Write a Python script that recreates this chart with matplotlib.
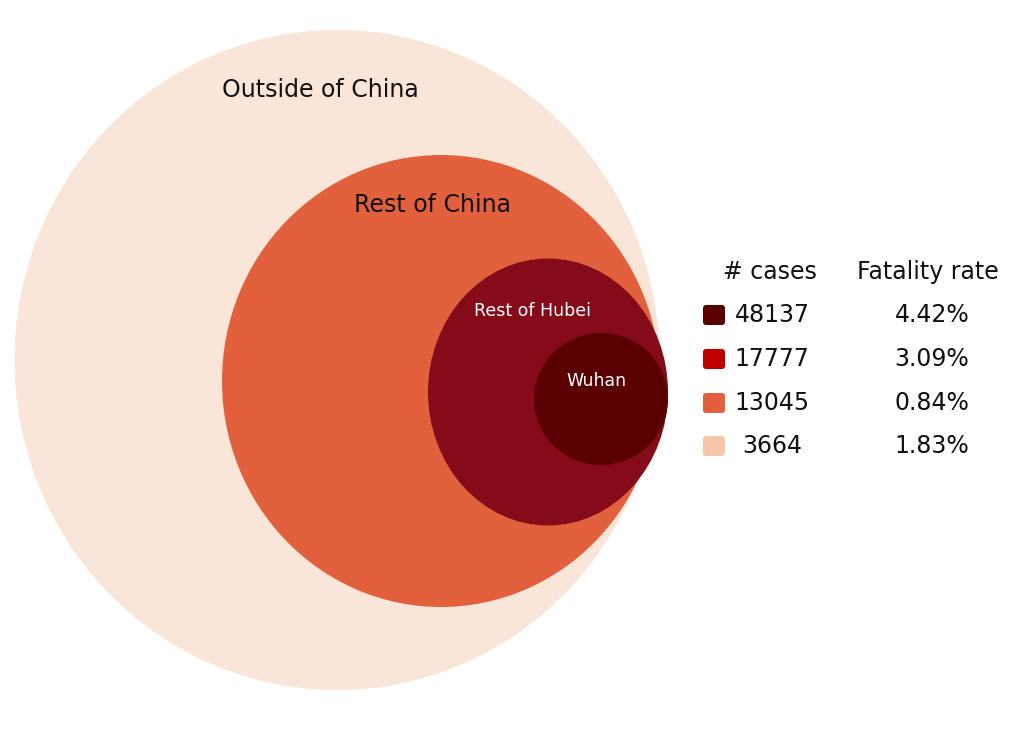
import matplotlib.pyplot as plt
from matplotlib.patches import Ellipse, FancyBboxPatch

# nested regions, drawn in pixel space of the reference
regions = ["Outside of China", "Rest of China", "Rest of Hubei", "Wuhan"]
centers = [(337, 360), (441, 381), (548, 392), (601, 399)]
widths = [645, 438, 240, 134]
heights = [660, 452, 267, 132]
fills = ["#fae5d9", "#e2603b", "#850b1a", "#5a0000"]
label_pos = [(320, 90), (432, 205), (533, 311), (596, 381)]
label_col = ["#111111", "#111111", "white", "white"]
label_size = [17, 17, 12.5, 12.5]

cases = ["48137", "17777", "13045", "3664"]
rates = ["4.42%", "3.09%", "0.84%", "1.83%"]
legend_cols = ["#5a0000", "#c00000", "#e2603b", "#f7c6a8"]
row_y = [315, 359, 403, 446]

fig = plt.figure(figsize=(10.31, 7.37), dpi=100)
ax = fig.add_axes([0, 0, 1, 1])
ax.set_xlim(0, 1031)
ax.set_ylim(737, 0)
ax.axis("off")

for c, w, h, f in zip(centers, widths, heights, fills):
    ax.add_patch(Ellipse(c, w, h, color=f, lw=0))
for name, (x, y), col, s in zip(regions, label_pos, label_col, label_size):
    ax.text(x, y, name, color=col, fontsize=s, ha="center", va="center")

ax.text(770, 272, "# cases", fontsize=17, ha="center", va="center", color="#111111")
ax.text(928, 272, "Fatality rate", fontsize=17, ha="center", va="center", color="#111111")
for y, n, r, col in zip(row_y, cases, rates, legend_cols):
    ax.add_patch(FancyBboxPatch((703, y - 10), 22, 20, boxstyle="round,pad=0,rounding_size=3",
                                color=col, lw=0))
    ax.text(772, y, n, fontsize=17, ha="center", va="center", color="#111111")
    ax.text(932, y, r, fontsize=17, ha="center", va="center", color="#111111")

fig.savefig("out.png", dpi=100, facecolor="white")
